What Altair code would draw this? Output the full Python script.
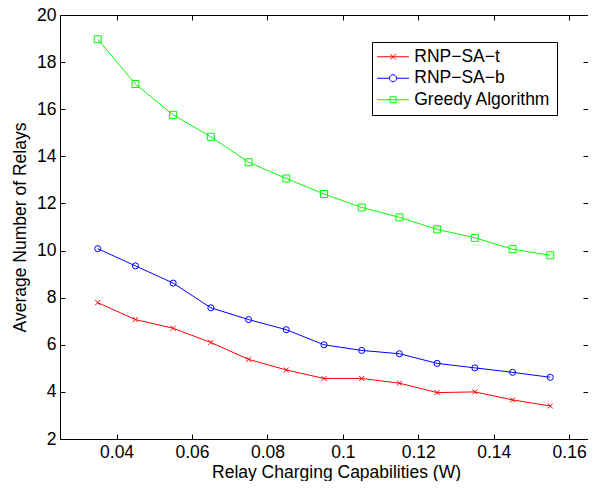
import altair as alt
import pandas as pd

capabilities = [0.035, 0.045, 0.055, 0.065, 0.075, 0.085, 0.095, 0.105, 0.115, 0.125, 0.135, 0.145, 0.155]
rnp_sa_t = [7.79, 7.07, 6.70, 6.10, 5.38, 4.93, 4.57, 4.57, 4.37, 3.97, 4.00, 3.66, 3.40]
rnp_sa_b = [10.08, 9.35, 8.62, 7.57, 7.07, 6.64, 6.00, 5.76, 5.62, 5.21, 5.02, 4.83, 4.62]
greedy = [18.97, 17.07, 15.76, 14.83, 13.75, 13.06, 12.40, 11.83, 11.41, 10.90, 10.54, 10.06, 9.80]

series_names = ["RNP\u2212SA\u2212t", "RNP\u2212SA\u2212b", "Greedy Algorithm"]
series_colors = ["#ff0000", "#0000ff", "#00ff00"]
x_ticks = [0.04, 0.06, 0.08, 0.10, 0.12, 0.14, 0.16]
y_ticks = [2, 4, 6, 8, 10, 12, 14, 16, 18, 20]

rows = []
for name, vals in zip(series_names, [rnp_sa_t, rnp_sa_b, greedy]):
    for xv, yv in zip(capabilities, vals):
        rows.append({"series": name, "x": xv, "y": yv})
df = pd.DataFrame(rows)

FONT = "Liberation Sans"
FS = 17.5

marker_shapes = ["M-1,-1L1,1M-1,1L1,-1", "circle", "square"]
legend_shapes = [
    "M-2,0H2M-0.35,-0.35L0.35,0.35M-0.35,0.35L0.35,-0.35",
    "M-2,0H-0.44M0.44,0H2M0.44,0A0.44,0.44,0,1,1,-0.44,0A0.44,0.44,0,1,1,0.44,0",
    "M-2,0H2M-0.375,-0.375H0.375V0.375H-0.375Z",
]

xscale = alt.Scale(domain=[0.025, 0.165], nice=False, zero=False)
yscale = alt.Scale(domain=[2, 20], nice=False, zero=False)
cscale = alt.Scale(domain=series_names, range=series_colors)

common_axis = dict(tickSize=5, offset=-5, domain=False, grid=False, tickColor="black",
                   tickWidth=1, labelColor="black", labelFont=FONT, labelFontSize=FS,
                   titleFont=FONT, titleFontSize=FS, titleColor="black", titleFontWeight="normal",
                   labelOverlap=False)

lines = alt.Chart(df).mark_line(strokeWidth=1).encode(
    x=alt.X("x:Q", scale=xscale, axis=alt.Axis(
        values=x_ticks, format=".2~f", title="Relay Charging Capabilities (W)",
        labelPadding=4.5, labelFlush=False, titleX=276, titleY=43.5, titleBaseline="alphabetic",
        titleAnchor="start", titleAlign="center", **common_axis)),
    y=alt.Y("y:Q", scale=yscale, axis=alt.Axis(
        values=y_ticks, title="Average Number of Relays", labelPadding=4,
        titleX=-40, titleY=212, titleAngle=-90, titleBaseline="alphabetic", titleAlign="center",
        **common_axis)),
    color=alt.Color("series:N", scale=cscale, legend=None),
    detail="series:N",
)

points = alt.Chart(df).mark_point(filled=False, strokeWidth=1, opacity=1).encode(
    x=alt.X("x:Q", scale=xscale, axis=alt.Axis(orient="top", values=x_ticks, labels=False,
                                               title=None, tickSize=5, offset=-5, domain=False,
                                               grid=False, tickColor="black")),
    y=alt.Y("y:Q", scale=yscale, axis=alt.Axis(orient="right", values=y_ticks, labels=False,
                                               title=None, tickSize=5, offset=-5, domain=False,
                                               grid=False, tickColor="black")),
    color=alt.Color("series:N", scale=cscale, legend=None),
    shape=alt.Shape("series:N", scale=alt.Scale(domain=series_names, range=marker_shapes), legend=None),
    size=alt.Size("series:N", scale=alt.Scale(domain=series_names, range=[25, 49, 36]), legend=None),
)

legend_props = dict(orient="none", legendX=312, legendY=27, title=None, strokeColor="black",
                    fillColor="white", padding=6, symbolSize=256, symbolStrokeWidth=1,
                    labelFont=FONT, labelFontSize=FS, labelColor="black", labelOffset=12.5,
                    rowPadding=2.5, symbolOffset=6.25, cornerRadius=0)

legend_layer = alt.Chart(df).transform_filter("false").mark_point(
    filled=False, strokeWidth=1, opacity=1).encode(
    color=alt.Color("series:N", scale=cscale, legend=alt.Legend(**legend_props)),
    shape=alt.Shape("series:N", scale=alt.Scale(domain=series_names, range=legend_shapes),
                    legend=alt.Legend(**legend_props)),
)

chart = alt.layer(lines, points, legend_layer).resolve_scale(
    color="independent", shape="independent"
).resolve_axis(x="independent", y="independent").properties(
    width=528, height=424,
    autosize=alt.AutoSizeParams(type="none"),
    padding={"left": 52, "top": 7, "right": 0, "bottom": 42},
    background="white",
).configure_view(stroke="black", strokeWidth=1)

chart.save("out.html", embed_options={"renderer": "svg", "actions": False})
